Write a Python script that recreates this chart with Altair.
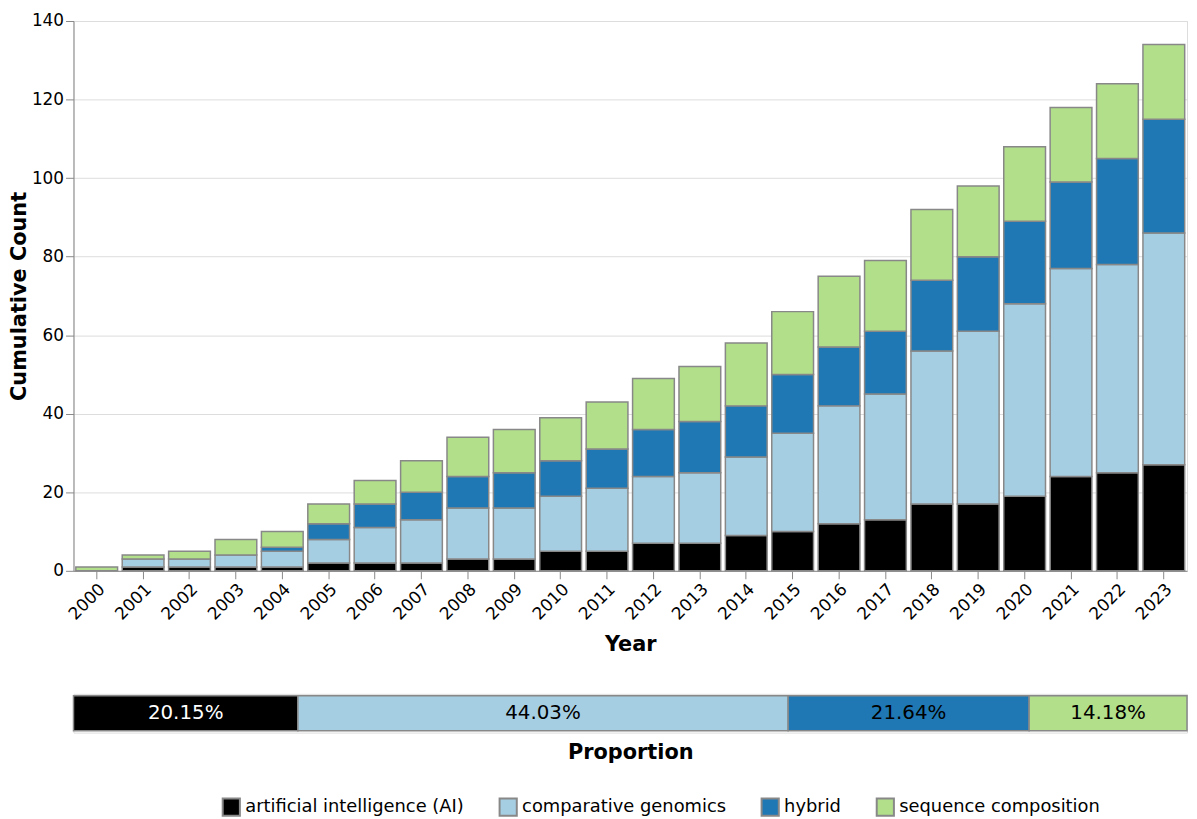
import altair as alt
import pandas as pd

FONT = "DejaVu Sans"

years = ["2000", "2001", "2002", "2003", "2004", "2005", "2006", "2007",
         "2008", "2009", "2010", "2011", "2012", "2013", "2014", "2015",
         "2016", "2017", "2018", "2019", "2020", "2021", "2022", "2023"]

categories = ["artificial intelligence (AI)", "comparative genomics",
              "hybrid", "sequence composition"]
colors = ["#000000", "#a6cee3", "#1f78b4", "#b2df8a"]

ai_counts = [0, 1, 1, 1, 1, 2, 2, 2, 3, 3, 5, 5, 7, 7, 9, 10, 12, 13, 17, 17, 19, 24, 25, 27]
comparative_counts = [0, 2, 2, 3, 4, 6, 9, 11, 13, 13, 14, 16, 17, 18, 20, 25, 30, 32, 39, 44, 49, 53, 53, 59]
hybrid_counts = [0, 0, 0, 0, 1, 4, 6, 7, 8, 9, 9, 10, 12, 13, 13, 15, 15, 16, 18, 19, 21, 22, 27, 29]
sequence_counts = [1, 1, 2, 4, 4, 5, 6, 8, 10, 11, 11, 12, 13, 14, 16, 16, 18, 18, 18, 18, 19, 19, 19, 19]

y_ticks = [0, 20, 40, 60, 80, 100, 120, 140]

series = [ai_counts, comparative_counts, hybrid_counts, sequence_counts]

rows = []
for i, (cat, vals) in enumerate(zip(categories, series)):
    for yr, v in zip(years, vals):
        rows.append({"Year": yr, "Method": cat, "Count": v, "ord": i})
df = pd.DataFrame(rows)

# proportions from the final (2023) cumulative counts
last = [vals[-1] for vals in series]
total = sum(last)
prow = []
acc = 0.0
for i, (cat, v) in enumerate(zip(categories, last)):
    p = v / total
    prow.append({"Method": cat, "start": acc, "end": acc + p, "mid": acc + p / 2,
                 "label": f"{p * 100:.2f}%", "tc": "white" if i == 0 else "black"})
    acc += p
pdf = pd.DataFrame(prow)

color = alt.Color(
    "Method:N",
    scale=alt.Scale(domain=categories, range=colors),
    legend=alt.Legend(
        title=None, orient="none", direction="horizontal",
        legendX=149, legendY=782,
        symbolType="square", symbolSize=300, symbolStrokeColor="#888888",
        symbolStrokeWidth=2, labelFontSize=18, labelFont=FONT, labelLimit=0,
        columnPadding=31, labelOffset=4,
    ),
)

bars = alt.Chart(df).transform_filter("datum.Count > 0").mark_bar(
    stroke="#888888", strokeWidth=1.5
).encode(
    x=alt.X("Year:O", sort=years,
            scale=alt.Scale(paddingInner=0.1, paddingOuter=0.05),
            axis=alt.Axis(title="Year", labelAngle=-45, titlePadding=11)),
    y=alt.Y("Count:Q", stack="zero", scale=alt.Scale(domain=[0, 140]),
            axis=alt.Axis(title="Cumulative Count", values=y_ticks, titlePadding=2)),
    color=color,
    order=alt.Order("ord:Q", sort="ascending"),
).properties(width=1122, height=554)

pbars = alt.Chart(pdf).mark_bar(stroke="#888888", strokeWidth=1.5).encode(
    x=alt.X("start:Q", scale=alt.Scale(domain=[0, 1], nice=False),
            axis=alt.Axis(title="Proportion", labels=False, ticks=False,
                          domain=False, grid=False, titlePadding=9)),
    x2="end:Q",
    color=color,
)
ptext = alt.Chart(pdf).mark_text(fontSize=20, font=FONT).encode(
    x=alt.X("mid:Q"),
    text="label:N",
    color=alt.Color("tc:N", scale=None),
)
prop = alt.layer(pbars, ptext).properties(width=1122, height=39)

chart = alt.vconcat(bars, prop, spacing=38).configure(
    font=FONT, padding=0
).configure_axis(
    labelFont=FONT, titleFont=FONT, labelFontSize=17, titleFontSize=21,
    titleFontWeight="bold", labelColor="#000", titleColor="#000",
    tickSize=8, tickColor="#888", domainColor="#888", gridColor="#ddd",
).configure_axisX(grid=False).configure_view(stroke="#ddd")

chart.save("out.html", embed_options={"renderer": "svg", "actions": False})
